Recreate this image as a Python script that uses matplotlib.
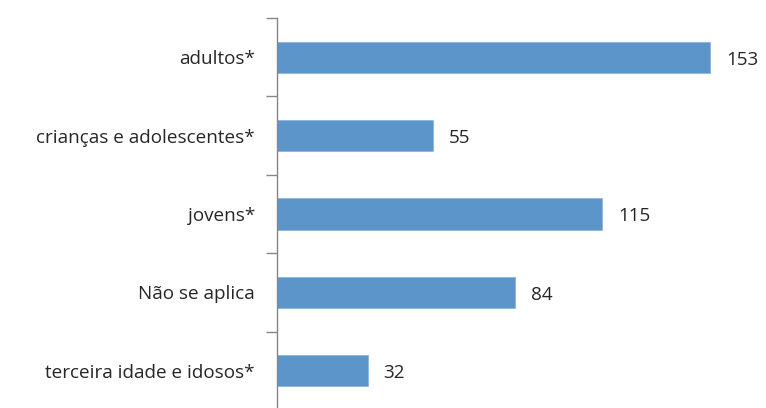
import matplotlib.pyplot as plt

# categories top to bottom, as in the reference
categorias = ['adultos*', 'crianças e adolescentes*', 'jovens*',
              'Não se aplica', 'terceira idade e idosos*']
valores = [153, 55, 115, 84, 32]

W, H = 766, 408
fig = plt.figure(figsize=(W / 100, H / 100), dpi=100)

# axes placed in pixel terms: left 277, top 18, bottom ~410
left, top, bottom = 277, 18, 410
xmax = 170
px_per_unit = 2.83
width = xmax * px_per_unit
ax = fig.add_axes([left / W, (H - bottom) / H, width / W, (bottom - top) / H])

n = len(categorias)
pos = list(range(n))
ax.barh(pos, valores, height=0.4, color='#5B95CA', edgecolor='#8DB4DE',
        linewidth=0.6)
ax.set_ylim(n - 0.5, -0.5)
ax.set_xlim(0, xmax)

for y, v in zip(pos, valores):
    ax.text(v + 5.6, y + 0.03, str(v), va='center', ha='left', fontsize=13.6,
            color='#262626', family='Open Sans')

# category labels
ax.set_yticks(pos)
ax.set_yticklabels(categorias, fontsize=13.6, color='#262626', family='Open Sans')
ax.tick_params(axis='y', which='major', length=0, pad=16)
# tick marks at category boundaries
ax.set_yticks([i - 0.5 for i in range(n + 1)], minor=True)
ax.tick_params(axis='y', which='minor', length=8, width=1, color='#868686')

ax.set_xticks([])
for s in ['top', 'right', 'bottom']:
    ax.spines[s].set_visible(False)
ax.spines['left'].set_color('#868686')
ax.spines['left'].set_linewidth(1)

fig.savefig('out.png', dpi=100)
